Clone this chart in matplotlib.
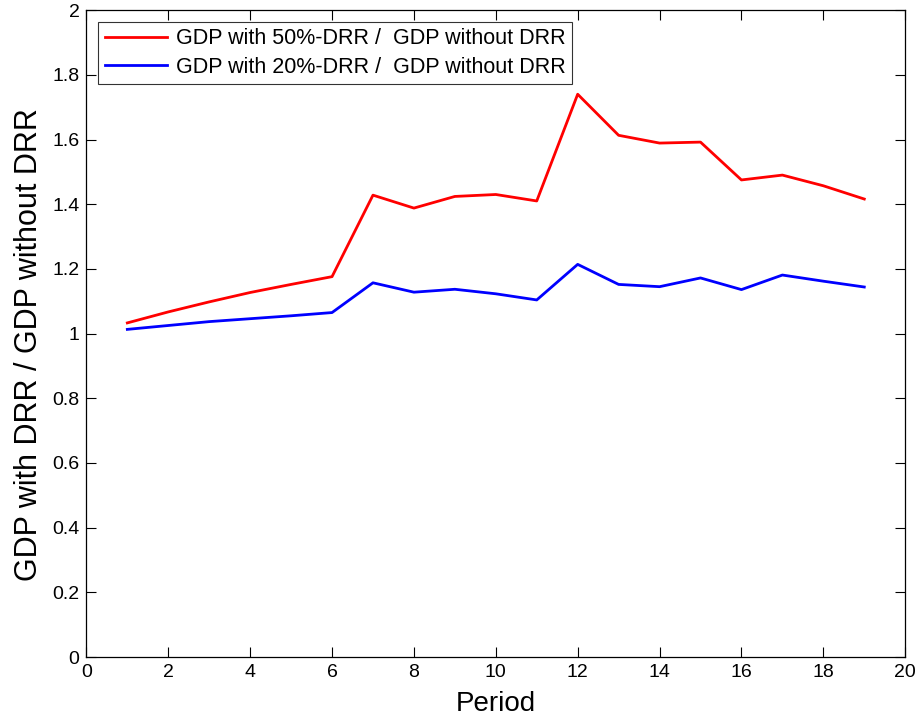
import matplotlib
matplotlib.use('Agg')
import matplotlib.pyplot as plt

plt.rcParams['font.family'] = ['Liberation Sans', 'DejaVu Sans']

# Dane
period = list(range(1, 20))
ratio_50 = [1.033, 1.067, 1.098, 1.127, 1.152, 1.176, 1.428, 1.388, 1.424, 1.430,
            1.410, 1.740, 1.613, 1.589, 1.592, 1.475, 1.490, 1.457, 1.416]
ratio_20 = [1.013, 1.025, 1.037, 1.046, 1.055, 1.065, 1.157, 1.128, 1.137, 1.123,
            1.104, 1.214, 1.152, 1.145, 1.172, 1.136, 1.181, 1.162, 1.144]

label_50 = 'GDP with 50%-DRR /  GDP without DRR'
label_20 = 'GDP with 20%-DRR /  GDP without DRR'

fig = plt.figure(figsize=(9.19, 7.24), dpi=100)
ax = fig.add_axes([0.094, 0.0925, 0.891, 0.8935])

ax.plot(period, ratio_50, color='red', lw=2.0, label=label_50)
ax.plot(period, ratio_20, color='blue', lw=2.0, label=label_20)

ax.set_xlim(0, 20)
ax.set_ylim(0, 2)
ax.set_xticks(range(0, 21, 2))
ax.set_yticks([i / 5 for i in range(11)])
ax.set_yticklabels(['0', '0.2', '0.4', '0.6', '0.8', '1', '1.2', '1.4', '1.6', '1.8', '2'])
ax.tick_params(direction='in', top=True, right=True, labelsize=14, length=7, width=0.8,
               pad=5)
for s in ax.spines.values():
    s.set_linewidth(0.9)

ax.set_xlabel('Period', fontsize=20, labelpad=7)
ax.set_ylabel('GDP with DRR / GDP without DRR', fontsize=22)
ax.yaxis.set_label_coords(-0.052, 0.483)

leg = ax.legend(loc='upper left', fontsize=15.5, frameon=True, fancybox=False,
                edgecolor='black', handlelength=2.9, borderaxespad=0.55,
                labelspacing=0.35, borderpad=0.3, handletextpad=0.4)
leg.get_frame().set_linewidth(0.8)

fig.savefig('out.png', dpi=100)
